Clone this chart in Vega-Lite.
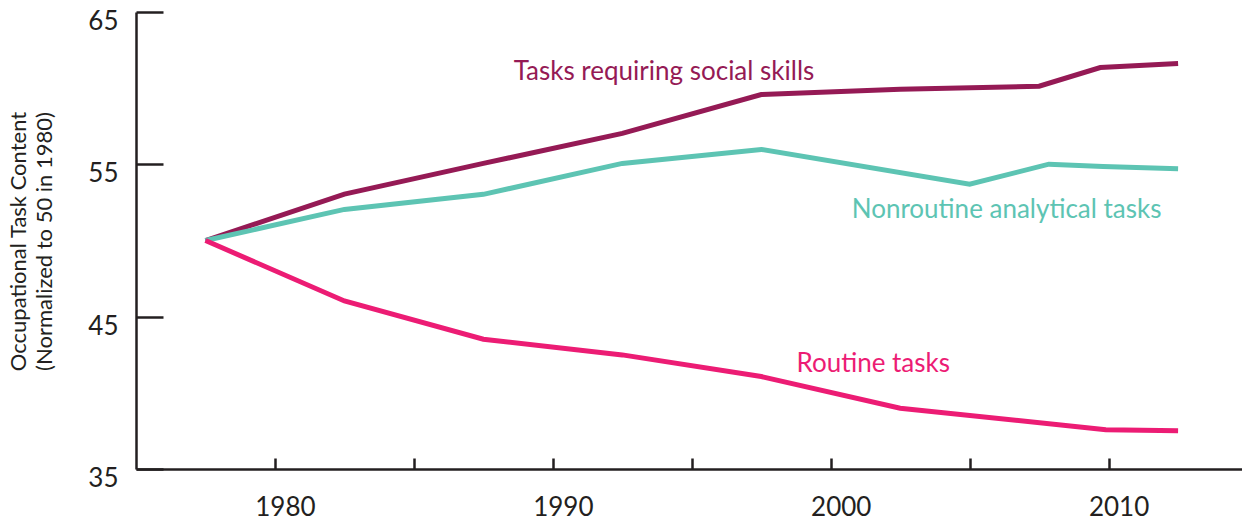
{
  "$schema": "https://vega.github.io/schema/vega-lite/v6.json",
  "width": 1106,
  "height": 457,
  "autosize": {"type": "none"},
  "padding": {"left": 136, "top": 12, "right": 0, "bottom": 51},
  "background": "white",
  "config": {"view": {"stroke": null}, "font": "Lato", "axis": {"grid": false}},
  "datasets": {
    "lines": [
      {"series": "Tasks requiring social skills", "year": 1977.5, "value": 50},
      {"series": "Tasks requiring social skills", "year": 1982.5, "value": 53.05},
      {"series": "Tasks requiring social skills", "year": 1987.5, "value": 55.06},
      {"series": "Tasks requiring social skills", "year": 1992.5, "value": 57.03},
      {"series": "Tasks requiring social skills", "year": 1997.5, "value": 59.58},
      {"series": "Tasks requiring social skills", "year": 2002.5, "value": 59.93},
      {"series": "Tasks requiring social skills", "year": 2007.5, "value": 60.13},
      {"series": "Tasks requiring social skills", "year": 2009.7, "value": 61.35},
      {"series": "Tasks requiring social skills", "year": 2012.5, "value": 61.62},
      {"series": "Nonroutine analytical tasks", "year": 1977.5, "value": 50},
      {"series": "Nonroutine analytical tasks", "year": 1982.5, "value": 52.04},
      {"series": "Nonroutine analytical tasks", "year": 1987.5, "value": 53.03},
      {"series": "Nonroutine analytical tasks", "year": 1992.5, "value": 55.06},
      {"series": "Nonroutine analytical tasks", "year": 1997.5, "value": 55.98},
      {"series": "Nonroutine analytical tasks", "year": 2005, "value": 53.69},
      {"series": "Nonroutine analytical tasks", "year": 2007.85, "value": 55.01},
      {"series": "Nonroutine analytical tasks", "year": 2009.8, "value": 54.85},
      {"series": "Nonroutine analytical tasks", "year": 2012.5, "value": 54.71},
      {"series": "Routine tasks", "year": 1977.5, "value": 50},
      {"series": "Routine tasks", "year": 1982.5, "value": 46.03},
      {"series": "Routine tasks", "year": 1987.5, "value": 43.52},
      {"series": "Routine tasks", "year": 1992.5, "value": 42.49},
      {"series": "Routine tasks", "year": 1997.5, "value": 41.07},
      {"series": "Routine tasks", "year": 2002.5, "value": 38.99},
      {"series": "Routine tasks", "year": 2009.9, "value": 37.58},
      {"series": "Routine tasks", "year": 2012.5, "value": 37.51}
    ],
    "labels": [
      {"series": "Tasks requiring social skills", "year": 1994.0, "value": 60.52},
      {"series": "Nonroutine analytical tasks", "year": 2006.33, "value": 51.45},
      {"series": "Routine tasks", "year": 2001.53, "value": 41.4}
    ]
  },
  "encoding": {
    "x": {
      "field": "year",
      "type": "quantitative",
      "scale": {"domain": [1975, 2014.8], "nice": false, "zero": false},
      "axis": {
        "title": null,
        "values": [1980, 1985, 1990, 1995, 2000, 2005, 2010],
        "format": "d",
        "labelExpr": "datum.value % 10 === 0 ? datum.label : ''",
        "domainColor": "#231F20",
        "domainWidth": 2.5,
        "tickColor": "#231F20",
        "tickWidth": 2.5,
        "tickSize": -11,
        "labelPadding": 57,
        "labelBaseline": "alphabetic",
        "labelOffset": 10,
        "labelFontSize": 26,
        "labelColor": "#231F20",
        "labelFlush": false,
        "labelOverlap": false
      }
    },
    "y": {
      "field": "value",
      "type": "quantitative",
      "scale": {"domain": [35, 65], "nice": false, "zero": false},
      "axis": {
        "title": ["Occupational Task Content", "(Normalized to 50 in 1980)"],
        "values": [35, 45, 55, 65],
        "domainColor": "#231F20",
        "domainWidth": 2.5,
        "tickColor": "#231F20",
        "tickWidth": 2.5,
        "tickSize": -27,
        "labelPadding": 45,
        "labelBaseline": "alphabetic",
        "labelOffset": 17.5,
        "labelFontSize": 26,
        "labelColor": "#231F20",
        "labelFlush": false,
        "labelOverlap": false,
        "titleFontSize": 22,
        "titleFontWeight": "normal",
        "titleColor": "#231F20",
        "titleAngle": -90,
        "titleX": -117.5,
        "titleY": 229,
        "titleAlign": "center",
        "titleBaseline": "middle",
        "titleLineHeight": 26
      }
    },
    "color": {
      "field": "series",
      "type": "nominal",
      "scale": {
        "domain": ["Nonroutine analytical tasks", "Routine tasks", "Tasks requiring social skills"],
        "range": ["#5DC4B3", "#EC1C74", "#951A55"]
      },
      "legend": null
    }
  },
  "layer": [
    {
      "data": {"name": "lines"},
      "mark": {"type": "line", "strokeWidth": 5, "strokeCap": "butt"}
    },
    {
      "data": {"name": "labels"},
      "mark": {"type": "text", "fontSize": 26, "align": "center", "baseline": "alphabetic"},
      "encoding": {"text": {"field": "series"}}
    }
  ]
}
